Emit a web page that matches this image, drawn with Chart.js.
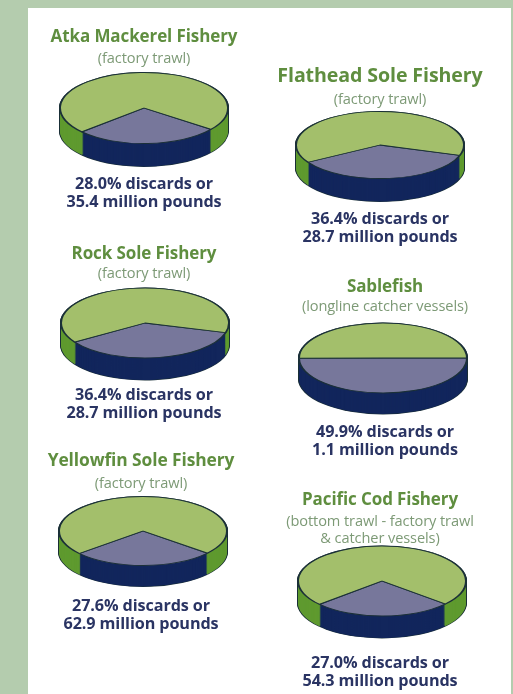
<!DOCTYPE html>
<html>
<head>
<meta charset="utf-8">
<style>
  html, body { margin: 0; padding: 0; }
  body { width: 513px; height: 694px; overflow: hidden; background: #b4ccae; position: relative; font-family: "Open Sans", sans-serif; }
  #panel { position: absolute; left: 28px; top: 8px; width: 483px; height: 686px; background: #ffffff; }
  canvas { position: absolute; }
  .line { position: absolute; white-space: nowrap; transform: translate(-50%, -50%); line-height: 1; }
  .title { font-weight: 700; letter-spacing: -0.1px; color: #5f8e3f; }
  .sub { font-size: 14.6px; font-weight: 400; letter-spacing: -0.1px; color: #7d9a76; }
  .foot { font-size: 16.2px; font-weight: 700; letter-spacing: -0.1px; color: #2a3463; }
</style>
</head>
<body>
<div id="panel"></div>
<script src="https://cdn.jsdelivr.net/npm/chart.js@4/dist/chart.umd.min.js"></script>
<script>
// Discard share of the catch for six Alaska groundfish fisheries
const fisheries = ["Atka Mackerel Fishery", "Flathead Sole Fishery", "Rock Sole Fishery", "Sablefish", "Yellowfin Sole Fishery", "Pacific Cod Fishery"];
const gearTypes = [
  ["(factory trawl)"],
  ["(factory trawl)"],
  ["(factory trawl)"],
  ["(longline catcher vessels)"],
  ["(factory trawl)"],
  ["(bottom trawl - factory trawl", "& catcher vessels)"]
];
const discardPercent = [28.0, 36.4, 36.4, 49.9, 27.6, 27.0];
const discardPounds = [35.4, 28.7, 28.7, 1.1, 62.9, 54.3];

// Where each pie's discard wedge begins, in degrees clockwise from twelve o'clock
const startAngles = [127, 108, 106, 90, 130, 131];

// Placement of each pie: centre, horizontal radius, vertical radius, wall height
const pieLayout = [
  { cx: 144, cy: 108, rx: 84, ry: 35.5, depth: 23 },
  { cx: 380, cy: 145, rx: 84, ry: 33.5, depth: 23 },
  { cx: 145, cy: 323, rx: 84, ry: 35, depth: 22 },
  { cx: 383, cy: 358, rx: 84, ry: 35, depth: 21 },
  { cx: 143, cy: 531, rx: 84, ry: 34.5, depth: 21 },
  { cx: 382, cy: 581, rx: 84, ry: 35, depth: 22 }
];

// Horizontal centre, heading size and vertical centres of the text lines around each pie
const textLayout = [
  { x: 144, size: 17, title: 35, subs: [57], feet: [183, 201] },
  { x: 380, size: 19.6, title: 75, subs: [98], feet: [218, 236] },
  { x: 144, size: 17, title: 252, subs: [272], feet: [394, 412] },
  { x: 385, size: 17, title: 285, subs: [305], feet: [431, 449] },
  { x: 141, size: 17.4, title: 460, subs: [482], feet: [605, 623] },
  { x: 380, size: 17, title: 498, subs: [520, 537], feet: [662, 680] }
];

const topColors = ["#77779b", "#a3bf6b"];
const wallColors = ["#12265c", "#5f9a2f"];
const outlineColor = "#1b3038";

// Squashes the flat pie into an ellipse and stacks a wall beneath it
const tiltedPie = {
  id: "tiltedPie",
  beforeDatasetDraw(chart, args, opts) {
    const ctx = chart.ctx;
    const arcs = args.meta.data;
    const cy = arcs[0].y;
    const k = opts.ry / arcs[0].outerRadius;
    ctx.save();
    ctx.translate(0, cy);
    ctx.scale(1, k);
    ctx.translate(0, -cy);

    const layer = (offset, grow, colors) => {
      arcs.forEach((arc, i) => {
        ctx.beginPath();
        ctx.moveTo(arc.x, arc.y + offset);
        ctx.arc(arc.x, arc.y + offset, arc.outerRadius + grow, arc.startAngle, arc.endAngle);
        ctx.closePath();
        ctx.fillStyle = colors[i];
        ctx.fill();
      });
    };
    const outline = arcs.map(() => outlineColor);
    for (let d = opts.depth; d >= 0; d--) layer(d / k, 1, outline);
    for (let d = opts.depth; d >= 0; d--) layer(d / k, 0, wallColors);
  },
  afterDatasetDraw(chart) {
    chart.ctx.restore();
  }
};

fisheries.forEach((name, i) => {
  const pie = pieLayout[i];
  const size = pie.rx * 2 + 2;
  const canvas = document.createElement("canvas");
  canvas.width = size;
  canvas.height = size;
  canvas.style.left = (pie.cx - pie.rx - 1) + "px";
  canvas.style.top = (pie.cy - pie.rx - 1) + "px";
  canvas.style.width = size + "px";
  canvas.style.height = size + "px";
  document.body.appendChild(canvas);

  new Chart(canvas, {
    type: "pie",
    data: {
      labels: ["Discards", "Retained"],
      datasets: [{
        data: [discardPercent[i], 100 - discardPercent[i]],
        backgroundColor: topColors,
        borderColor: outlineColor,
        borderWidth: 2,
        clip: false
      }]
    },
    options: {
      responsive: false,
      animation: false,
      rotation: startAngles[i],
      plugins: {
        legend: { display: false },
        tooltip: { enabled: false },
        tiltedPie: { ry: pie.ry, depth: pie.depth }
      }
    },
    plugins: [tiltedPie]
  });
});

const addLine = (text, cls, x, y) => {
  const el = document.createElement("div");
  el.className = "line " + cls;
  el.textContent = text;
  el.style.left = x + "px";
  el.style.top = y + "px";
  document.body.appendChild(el);
  return el;
};

fisheries.forEach((name, i) => {
  const t = textLayout[i];
  addLine(name, "title", t.x, t.title).style.fontSize = t.size + "px";
  gearTypes[i].forEach((line, j) => addLine(line, "sub", t.x, t.subs[j]));
  addLine(discardPercent[i].toFixed(1) + "% discards or", "foot", t.x, t.feet[0]);
  addLine(discardPounds[i] + " million pounds", "foot", t.x, t.feet[1]);
});
</script>
</body>
</html>
